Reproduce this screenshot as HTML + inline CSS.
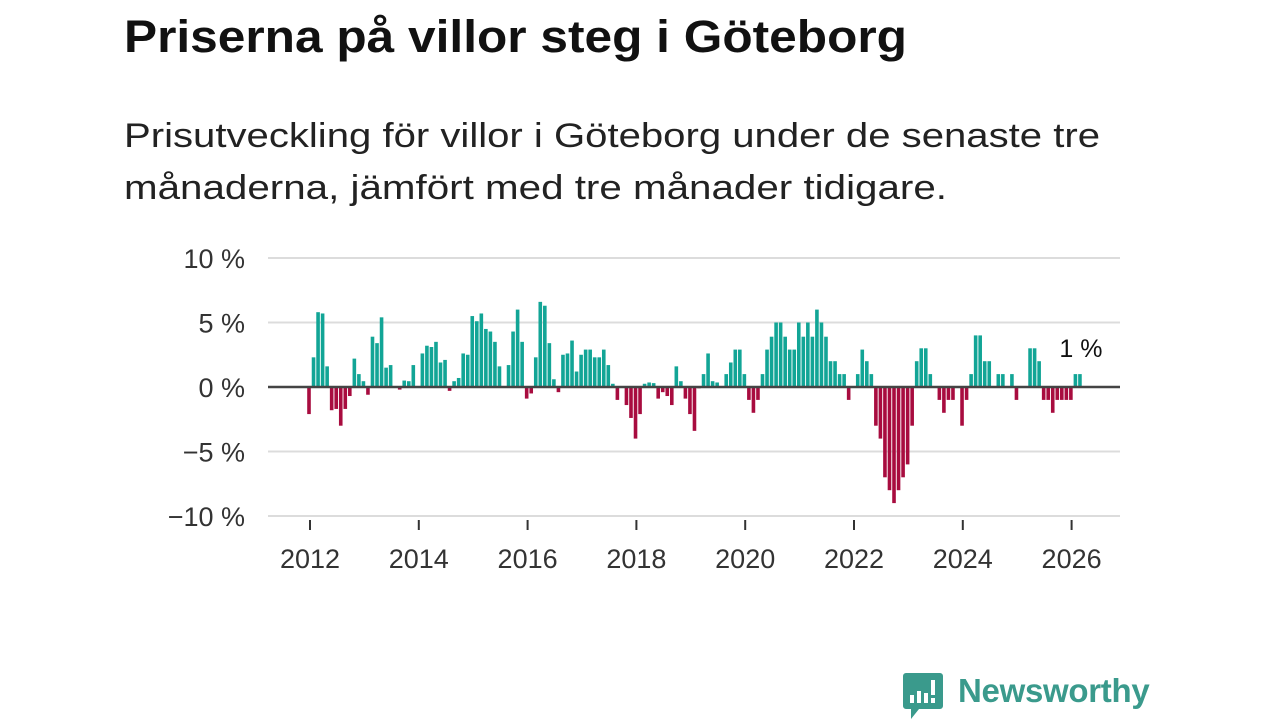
<!DOCTYPE html>
<html><head><meta charset="utf-8"><style>
body{margin:0;width:1280px;height:720px;background:#fff;overflow:hidden;font-family:"Liberation Sans",sans-serif;color:#111}
svg{position:absolute;left:0;top:0}
</style></head><body>
<svg width="1280" height="230">
<text x="124" y="52" font-size="45" font-weight="bold" fill="#111" textLength="783" lengthAdjust="spacingAndGlyphs" font-family="Liberation Sans, sans-serif">Priserna på villor steg i Göteborg</text>
<text x="124" y="147" font-size="34" fill="#222" textLength="976" lengthAdjust="spacingAndGlyphs" font-family="Liberation Sans, sans-serif">Prisutveckling för villor i Göteborg under de senaste tre</text>
<text x="124" y="199" font-size="34" fill="#222" textLength="823" lengthAdjust="spacingAndGlyphs" font-family="Liberation Sans, sans-serif">månaderna, jämfört med tre månader tidigare.</text>
</svg>
<svg id="chart" width="1280" height="720"></svg>
<div style="position:absolute;left:903px;top:671px;width:260px;height:48px">
<svg width="40" height="48" style="left:0;top:2px"><path d="M3 0h34a3 3 0 0 1 3 3v30a3 3 0 0 1-3 3H16l-8 10v-10H3a3 3 0 0 1-3-3V3a3 3 0 0 1 3-3z" fill="#3a9a8c"/><rect x="7" y="22" width="4" height="8" fill="#fff"/><rect x="14" y="18" width="4" height="12" fill="#fff"/><rect x="21" y="20" width="4" height="10" fill="#fff"/><rect x="28" y="7" width="4" height="15" fill="#fff"/><rect x="28" y="25" width="4" height="5" fill="#fff"/></svg>
<span style="position:absolute;left:55px;top:1px;font-size:33px;font-weight:bold;color:#3a9a8c;letter-spacing:-0.3px">Newsworthy</span></div>
<script>
const values=[-2.1,2.3,5.8,5.7,1.6,-1.8,-1.7,-3.0,-1.7,-0.7,2.2,1.0,0.45,-0.6,3.9,3.4,5.4,1.5,1.7,0,-0.2,0.5,0.45,1.7,0,2.6,3.2,3.1,3.5,1.9,2.1,-0.3,0.45,0.7,2.6,2.5,5.5,5.1,5.7,4.5,4.3,3.5,1.6,0.05,1.7,4.3,6.0,3.5,-0.9,-0.5,2.3,6.6,6.3,3.4,0.6,-0.4,2.5,2.6,3.6,1.2,
2.5,2.9,2.9,2.3,2.3,2.9,1.7,0.25,-1.0,0,-1.4,-2.4,-4.0,-2.1,0.25,0.35,0.3,-0.9,-0.4,-0.7,-1.4,1.6,0.45,-0.9,-2.1,-3.4,-0.1,1.0,2.6,0.45,0.35,0,1.0,1.9,2.9,2.9,1.0,-1.0,-2.0,-1.0,1.0,2.9,3.9,5.0,5.0,3.9,2.9,2.9,5.0,3.9,5.0,3.9,6.0,5.0,3.9,2.0,2.0,1.0,1.0,
-1.0,0,1.0,2.9,2.0,1.0,-3.0,-4.0,-7.0,-8.0,-9.0,-8.0,-7.0,-6.0,-3.0,2.0,3.0,3.0,1.0,0,-1.0,-2.0,-1.0,-1.0,0,-3.0,-1.0,1.0,4.0,4.0,2.0,2.0,0,1.0,1.0,0,1.0,-1.0,0,0,3.0,3.0,2.0,-1.0,-1.0,-2.0,-1.0,-1.0,-1.0,-1.0,1.0,1.0];
const startYear=2012;
const yTicks=[10,5,0,-5,-10];
const yTickLabels=["10 %","5 %","0 %","−5 %","−10 %"];
const xTicks=[2012,2014,2016,2018,2020,2022,2024,2026];
const svg=document.getElementById('chart');const NS='http://www.w3.org/2000/svg';
const y=v=>387-v*12.9;
const x=m=>309+m*4.535;
const xYear=yr=>310+(yr-2012)*54.4;
function el(t,a){const e=document.createElementNS(NS,t);for(const k in a)e.setAttribute(k,a[k]);svg.appendChild(e);return e;}
yTicks.forEach((t,i)=>{
 if(t!==0){const g=el('line',{x1:268,x2:1120,y1:y(t),y2:y(t),stroke:'#dcdcdc','stroke-width':2});
 
 }
 const l=el('text',{x:245,y:y(t)+10,'text-anchor':'end','font-size':27,fill:'#333','font-family':'Liberation Sans, sans-serif'});
 
 
 l.textContent=yTickLabels[i];
});
values.forEach((v,i)=>{
 const top=Math.min(y(v),y(0)),h=Math.abs(y(v)-y(0));
 const b=el('rect',{x:x(i)-1.8,y:top,width:3.6,height:Math.max(h,0.5),fill:v>=0?'#12a596':'#a80c3f'});
 
 
});
const z=el('line',{x1:268,x2:1120,y1:y(0),y2:y(0),stroke:'#444','stroke-width':2.5});


xTicks.forEach(yr=>{
 const tk=el('line',{x1:xYear(yr),x2:xYear(yr),y1:520,y2:530,stroke:'#333','stroke-width':2});
 
 
 const l=el('text',{x:xYear(yr),y:568,'text-anchor':'middle','font-size':27,fill:'#333','font-family':'Liberation Sans, sans-serif'});
 
 
 l.textContent=yr;
});
const last=values[values.length-1];
const lab=el('text',{x:x(values.length-1)+1,y:y(last)-17,'text-anchor':'middle','font-size':25,fill:'#111','font-family':'Liberation Sans, sans-serif'});


lab.textContent=Math.round(last)+' %';
</script>
</body></html>
